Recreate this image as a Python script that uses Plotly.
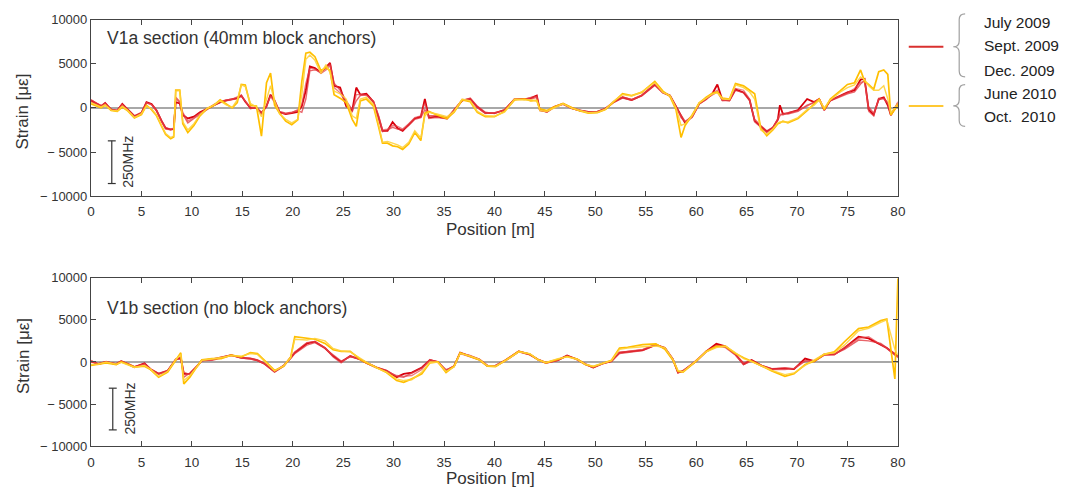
import plotly.graph_objects as go

W, H = 1073, 499

# ---------------- data: strain along the fibre [µε] ----------------
TOP_X = [0, 0.5, 1.0, 1.4, 2.0, 2.6, 3.1, 3.6, 4.3, 5.0, 5.5, 6.0, 6.5, 7.0, 7.4, 7.9, 8.2, 8.4, 8.8, 9.1,
         9.6, 10.2, 10.8, 11.5, 12.2, 12.8, 13.4, 14.0, 14.5, 14.9, 15.3, 15.8, 16.4, 16.9, 17.4, 17.8, 18.2, 18.7, 19.3, 19.9,
         20.5, 20.9, 21.3, 21.7, 22.2, 22.8, 23.3, 23.7, 24.1, 24.7, 25.3, 25.9, 26.3, 26.7, 27.3, 28.0, 28.5, 28.9, 29.4, 29.9,
         30.4, 30.9, 31.5, 32.1, 32.7, 33.1, 33.5, 34.3, 35.3, 36.0, 36.8, 37.6, 38.3, 39.1, 40.0, 41.0, 42.0, 43.0, 43.6, 44.2,
         44.5, 45.2, 45.9, 46.8, 47.7, 48.5, 49.3, 50.2, 51.0, 51.8, 52.7, 53.6, 54.6, 55.9, 56.7, 57.4, 58.0, 58.5, 58.9, 59.6,
         60.3, 61.0, 61.6, 62.1, 62.6, 63.3, 63.9, 64.7, 65.3, 65.8, 66.4, 67.0, 67.6, 68.1, 68.3, 68.6, 69.1, 70.1, 71.0, 71.7,
         72.2, 72.7, 73.3, 74.3, 75.0, 75.7, 76.3, 76.7, 77.1, 77.6, 78.1, 78.6, 79.0, 79.3, 80.0]

TOP_JULY09 = [850, 500, 200, 550, -200, -300, 450, -150, -950, -600, 650, 450, -300, -1500, -2300, -2450, -2400, 650, 500, -800,
              -1200, -1000, -500, -100, 350, 650, 850, 950, 1100, 1400, 700, 0, 0, -600, 200, 1500, 800, -500, -700, -600,
              -450, 200, 2000, 4700, 4500, 4000, 4600, 5100, 2500, 2300, 200, -300, 2300, 1500, 1600, 700, -1000, -2600, -2600, -1600,
              -2300, -2600, -1900, -1200, -1000, 1000, -1100, -1000, -1200, -250, 850, 1000, 100, -600, -600, -250, 1000, 1000, 1100, 1400,
              -250, -450, 100, 450, -50, -300, -450, -450, -100, 650, 1200, 900, 1400, 2650, 1750, 1400, 100, -1000, -1700, -1000,
              500, 1000, 1600, 2650, 900, 850, 2100, 1750, 900, -1500, -2100, -2700, -2250, -1300, 300, -700, -600, -250, 1000, 650,
              1000, -250, 850, 1400, 1750, 2000, 3200, 3300, -200, -800, 1000, 1200, 300, -800, 500]
TOP_SEPT09 = [700, 400, 150, 450, -150, -350, 350, -100, -900, -500, 550, 400, -350, -1400, -2250, -2400, -2350, 1200, 700, -700,
              -1700, -1200, -700, -200, 300, 600, 800, 900, 1050, 1300, 800, -100, 50, -500, 100, 1400, 900, -400, -600, -500,
              -300, -500, 1000, 4200, 4300, 4100, 4500, 5000, 2800, 2000, 800, -200, 800, 1400, 1500, 600, -1200, -2700, -2500, -2200,
              -2400, -2500, -2000, -1300, -1100, -200, -900, -900, -1100, -300, 800, 1100, 200, -500, -650, -200, 950, 1050, 1000, 1200,
              -300, -400, 150, 500, 0, -250, -500, -400, -50, 600, 1100, 850, 1350, 2550, 1700, 1350, 200, -1100, -1600, -900,
              450, 1050, 1500, 1800, 850, 800, 2000, 1700, 800, -1300, -2000, -2600, -2200, -1400, -900, -600, -700, -400, 300, 600,
              950, -150, 800, 1300, 1600, 1800, 2700, 3100, 100, -600, 900, 1100, 600, -700, 400]
TOP_DEC09 = [950, 550, 300, 500, -250, -250, 400, -200, -1000, -650, 600, 350, -250, -1600, -2400, -2500, -2300, 1000, 600, -500,
             -1500, -1100, -600, -150, 400, 700, 900, 1000, 1200, 1450, 750, 100, -50, -700, 300, 1300, 600, -600, -650, -550,
             -200, 400, 2800, 4500, 4400, 3900, 4300, 4800, 2300, 1700, 500, -500, 1500, 1500, 1400, 800, -800, -2500, -2400, -2000,
             -2100, -2400, -1800, -1100, -900, 600, -1200, -1100, -1250, -200, 900, 900, 0, -650, -550, -300, 1050, 950, 1200, 1300,
             -200, -500, 50, 400, -100, -350, -400, -500, -150, 700, 1250, 950, 1450, 2700, 1800, 1300, 0, -900, -1500, -1100,
             400, 950, 1650, 2000, 800, 900, 2200, 2000, 1000, -1600, -2200, -2800, -2300, -1200, -700, -800, -550, -300, 200, 700,
             1050, -300, 900, 1350, 1700, 2200, 2900, 3000, -400, -900, 1100, 1000, 500, -900, 700]
TOP_JUNE10 = [450, 250, 0, 300, -300, -400, 100, -300, -1150, -750, 300, -200, -900, -2100, -3000, -3500, -3300, 2000, 2000, -1800,
              -2800, -2000, -900, -100, 300, 900, 400, 0, 600, 2650, 2600, 300, 200, -3200, 2850, 3950, 300, -600, -1500, -1900,
              -1350, 3000, 6200, 6300, 5800, 4200, 4600, 4200, 1500, 1100, 600, -1300, -2100, 800, 1000, 200, -2100, -4000, -4000, -4300,
              -4400, -4700, -4100, -2800, -3700, -600, -400, -800, -1200, -500, 900, 700, -500, -1000, -1000, -400, 900, 1000, 800, 850,
              -100, -300, 100, 500, 0, -350, -600, -550, -200, 700, 1600, 1400, 1750, 3000, 1900, 1300, -200, -3350, -2000, -800,
              550, 1200, 1650, 1800, 1100, 1000, 2750, 2500, 1950, 1600, -2300, -3150, -2500, -1800, -1700, -1500, -1700, -1200, -300, 400,
              1000, -200, 1000, 1950, 2650, 2850, 4300, 3000, 2650, 2100, 4100, 4300, 3800, -800, 300]
TOP_OCT10 = [600, 350, 100, 350, -250, -350, 200, -250, -1100, -650, 200, -100, -800, -2000, -2900, -3350, -3200, 1900, 1950, -1600,
             -2500, -1800, -800, -50, 350, 800, 350, 50, 900, 2600, 2400, 500, 100, -1000, 1000, 2500, 800, -700, -1300, -1700,
             -1300, 1500, 5500, 6000, 5400, 3900, 4900, 4000, 1900, 1600, 1000, -900, -1200, 1000, 1200, 400, -1800, -3900, -3800, -4000,
             -4200, -4500, -3900, -2600, -3400, -900, -500, -700, -1000, -400, 1000, 800, -400, -900, -950, -500, 1000, 900, 900, 800,
             -300, -400, 0, 450, -50, -300, -550, -500, -150, 750, 1500, 1350, 1800, 2850, 1750, 1400, 0, -2000, -1800, -900,
             600, 1100, 1550, 1700, 1000, 950, 2600, 2300, 1800, 1000, -2500, -3000, -2400, -1700, -1600, -1600, -1600, -1100, -200, 300,
             900, 0, 900, 1800, 2300, 2600, 3500, 3200, 2500, 2000, 2000, 2500, 1000, -600, 500]

BOT_X = [0, 0.7, 1.5, 2.5, 3.0, 3.7, 4.3, 5.3, 5.9, 6.7, 7.6, 8.4, 8.9, 9.2, 9.8, 10.7, 11.0, 12.0, 12.9, 13.9,
         14.9, 15.8, 16.5, 17.2, 18.2, 19.1, 19.8, 20.2, 21.4, 22.2, 23.2, 24.0, 24.8, 25.7, 26.7, 27.3, 28.3, 29.3, 30.3, 31.0,
         31.8, 32.8, 33.6, 34.4, 35.2, 36.0, 36.6, 37.5, 38.5, 39.3, 40.1, 41.1, 42.4, 43.5, 44.3, 45.1, 46.3, 47.2, 48.2, 49.0,
         49.8, 50.8, 51.6, 52.4, 53.2, 54.7, 56.0, 56.9, 57.7, 58.2, 58.7, 60.0, 61.0, 62.0, 62.9, 63.9, 64.7, 65.5, 66.5, 67.5,
         68.8, 69.7, 70.8, 71.7, 72.7, 73.7, 74.7, 76.1, 77.1, 78.3, 78.9, 79.7, 80.0]

BOT_JULY09 = [100, -250, 0, -250, 100, -250, -600, -150, -850, -1400, -1050, 300, 500, -1400, -1400, -270, 200, 300, 500, 800,
              500, 400, 200, -200, -1150, -450, 500, 1100, 2200, 2400, 1650, 700, 0, 700, 300, -100, -650, -1050, -1800, -1400,
              -1250, -650, 230, 0, -1050, -500, 1100, 700, 300, -450, -450, 200, 1250, 900, 300, -100, 230, 770, 300, -270,
              -650, -150, 100, 1100, 1200, 1400, 2050, 1650, 300, -1250, -1050, 100, 1250, 2150, 1850, 900, -270, 230, -450, -850,
              -750, -850, 400, 100, 900, 900, 1650, 3000, 2800, 2050, 1650, 900, 700]
BOT_SEPT09 = [0, -200, 50, -300, 50, -200, -550, -200, -800, -1350, -1000, 250, 400, -1800, -1300, -300, 150, 200, 450, 750,
              550, 450, 250, -150, -1100, -400, 400, 1000, 2000, 2300, 1600, 800, 100, 600, 350, -50, -600, -1000, -1700, -1800,
              -1300, -700, 200, 50, -1000, -450, 1000, 800, 350, -400, -500, 150, 1200, 850, 350, -50, 250, 700, 350, -200,
              -600, -200, 150, 1000, 1150, 1350, 2000, 1700, 350, -1200, -1100, 150, 1200, 2000, 1800, 850, -100, 200, -400, -800,
              -700, -800, 100, 150, 850, 950, 1500, 2600, 2500, 2200, 1700, 1000, 500]
BOT_DEC09 = [200, -300, -50, -200, 150, -300, -650, -250, -900, -1450, -1100, 350, 600, -1200, -1500, -250, 250, 250, 550, 850,
             450, 350, 150, -250, -1200, -500, 600, 1200, 2300, 2450, 1700, 600, -100, 750, 250, -150, -700, -1100, -1600, -1700,
             -1600, -900, 300, -50, -900, -550, 1000, 650, 250, -500, -400, 250, 1300, 950, 250, -150, 200, 750, 250, -300,
             -700, -100, 50, 1150, 1250, 1500, 2100, 1600, 250, -1300, -1000, 50, 1300, 1900, 1700, 800, -300, 100, -500, -900,
             -900, -750, 200, 50, 800, 850, 1700, 2800, 3000, 2100, 1600, 800, 600]
BOT_JUNE10 = [-400, -300, -100, -300, 0, -300, -600, -500, -900, -1800, -1200, 200, 1100, -2600, -1800, -200, 250, 400, 400, 800,
              600, 1100, 1000, 200, -1000, -500, 600, 3000, 2800, 2700, 2200, 1450, 1250, 1250, 300, -100, -650, -1250, -2200, -2400,
              -2000, -1400, -100, 0, -1250, -500, 1100, 700, 250, -500, -550, 200, 1250, 950, 300, -100, 350, 650, 350, -300,
              -550, -150, 200, 1650, 1750, 2050, 2150, 1500, 200, -1100, -1200, 100, 1250, 1850, 1850, 1000, 500, 100, -500, -1050,
              -1700, -1400, -300, 100, 900, 1200, 2400, 3950, 4150, 4900, 5100, -2000, 9900]
BOT_OCT10 = [-300, -250, 0, -250, -50, -350, -650, -400, -850, -1700, -1100, 300, 900, -2200, -1600, -300, 200, 350, 500, 750,
             700, 1000, 900, 100, -1050, -450, 500, 2700, 2600, 2800, 2500, 1600, 1300, 1200, 400, 0, -700, -1200, -2000, -2200,
             -2100, -1200, 0, -50, -1100, -600, 1000, 750, 300, -450, -500, 150, 1200, 1000, 250, -50, 400, 600, 300, -250,
             -500, -100, 150, 1500, 1650, 1800, 1900, 1700, 300, -1000, -1150, 150, 1200, 1700, 1900, 1100, 400, 50, -450, -1000,
             -1500, -1300, -400, 200, 950, 1100, 2000, 3700, 4000, 4700, 5000, 1500, 800]

SERIES = ["July 2009", "Sept. 2009", "Dec. 2009", "June 2010", "Oct.  2010"]
PANEL_TITLES = ["V1a section (40mm block anchors)", "V1b section (no block anchors)"]

X_TICKS = [0, 5, 10, 15, 20, 25, 30, 35, 40, 45, 50, 55, 60, 65, 70, 75, 80]
Y_TICKS = [-10000, -5000, 0, 5000, 10000]
Y_TICK_TEXT = ["\u2212 10000", "\u2212 5000", "0", "5000", "10000"]

# ---------------- styling ----------------
FONT = "Liberation Sans, Arial, sans-serif"
INK = "#333333"
FRAME = "#444444"
STYLES = [
    dict(color="#d8000c", width=1.8, opacity=1.0),
    dict(color="#e2323a", width=1.4, opacity=0.75),
    dict(color="#e6474e", width=1.3, opacity=0.7),
    dict(color="#ffbf00", width=1.7, opacity=1.0),
    dict(color="#ffd23a", width=1.4, opacity=0.9),
]


def px(x):
    """Canvas pixel column -> paper x."""
    return x / W


def py(y):
    """Canvas pixel row -> paper y."""
    return 1 - y / H


fig = go.Figure()

panels = [
    (TOP_X, [TOP_JULY09, TOP_SEPT09, TOP_DEC09, TOP_JUNE10, TOP_OCT10], "x", "y"),
    (BOT_X, [BOT_JULY09, BOT_SEPT09, BOT_DEC09, BOT_JUNE10, BOT_OCT10], "x2", "y2"),
]
for xs, ys_list, xa, ya in panels:
    for name, ys, st in zip(SERIES, ys_list, STYLES):
        fig.add_trace(go.Scatter(
            x=xs, y=ys, mode="lines", name=name, showlegend=False,
            line=dict(color=st["color"], width=st["width"]), opacity=st["opacity"],
            xaxis=xa, yaxis=ya, hoverinfo="skip",
        ))

frame = dict(showline=True, linecolor=FRAME, linewidth=1.2, mirror="ticks", ticks="inside",
             ticklen=5, tickwidth=1.2, tickcolor=FRAME, showgrid=False)
xcommon = dict(frame, range=[0, 80], tickvals=X_TICKS, zeroline=False, ticklabelstandoff=3,
               tickfont=dict(family=FONT, size=13.5, color=INK))
ycommon = dict(frame, range=[-10000, 10000], tickvals=Y_TICKS, ticktext=Y_TICK_TEXT,
               zeroline=True, zerolinecolor="#a8a8a8", zerolinewidth=2,
               tickfont=dict(family=FONT, size=13, color=INK))

# plot areas on the canvas: x 88..904, top y 13..195, bottom y 279..453
fig.update_layout(
    width=W, height=H,
    margin=dict(l=0, r=0, t=0, b=0),
    paper_bgcolor="white", plot_bgcolor="white",
    xaxis=dict(xcommon, domain=[px(88), px(904)], anchor="y"),
    yaxis=dict(ycommon, domain=[py(195), py(13)], anchor="x"),
    xaxis2=dict(xcommon, domain=[px(88), px(904)], anchor="y2"),
    yaxis2=dict(ycommon, domain=[py(453), py(279)], anchor="x2"),
    font=dict(family=FONT, color=INK),
)

ann = []
shapes = []


def text(x, y, s, size, xanchor="center", color=INK, **kw):
    ann.append(dict(x=px(x), y=py(y), xref="paper", yref="paper", text=s, showarrow=False,
                    xanchor=xanchor, yanchor="middle",
                    font=dict(family=FONT, size=size, color=color), **kw))


# axis titles
for yc in (108, 360):
    text(19, yc, "Strain [\u03bc\u03b5]", 17, textangle=-90)
for yc in (229, 486):
    text(492, yc, "Position [m]", 17)

# panel titles
text(102, 32, PANEL_TITLES[0], 17.5, xanchor="left")
text(102, 310, PANEL_TITLES[1], 17.5, xanchor="left")

# 250 MHz scale bars
for xb, y0, y1 in ((109, 138, 182), (110, 393, 436)):
    shapes.append(dict(type="line", xref="paper", yref="paper", x0=px(xb), x1=px(xb), y0=py(y0), y1=py(y1),
                       line=dict(color=INK, width=1.2)))
    for yy in (y0, y1):
        shapes.append(dict(type="line", xref="paper", yref="paper", x0=px(xb - 4), x1=px(xb + 4), y0=py(yy), y1=py(yy),
                           line=dict(color=INK, width=1.2)))
    text(xb + 17, (y0 + y1) / 2, "250MHz", 14, textangle=-90)

# legend: coloured lines, braces and dates
for yl, col in ((41, "#d9302f"), (102, "#ffc832")):
    shapes.append(dict(type="line", xref="paper", yref="paper", x0=px(915), x1=px(950), y0=py(yl), y1=py(yl),
                       line=dict(color=col, width=2)))


def brace(y0, y1, ym, xb=972, xs=966, xt=960, r=6):
    pts = lambda x, y: f"{px(x):.5f},{py(y):.5f}"
    return (f"M {pts(xb, y0)} Q {pts(xs, y0)} {pts(xs, y0 + r)} L {pts(xs, ym - r)} "
            f"Q {pts(xs, ym)} {pts(xt, ym)} Q {pts(xs, ym)} {pts(xs, ym + r)} "
            f"L {pts(xs, y1 - r)} Q {pts(xs, y1)} {pts(xb, y1)}")


for y0, y1, ym in ((7, 72, 41), (80, 123, 102)):
    shapes.append(dict(type="path", xref="paper", yref="paper", path=brace(y0, y1, ym),
                       line=dict(color="#a0a0a0", width=1.2)))

for label, yc in zip(SERIES, (16, 40, 65, 89, 113)):
    text(989, yc, label.replace("  ", "&nbsp;&nbsp;"), 15.5, xanchor="left", color="#222222")

fig.update_layout(annotations=ann, shapes=shapes)
fig.write_html("out.html")
